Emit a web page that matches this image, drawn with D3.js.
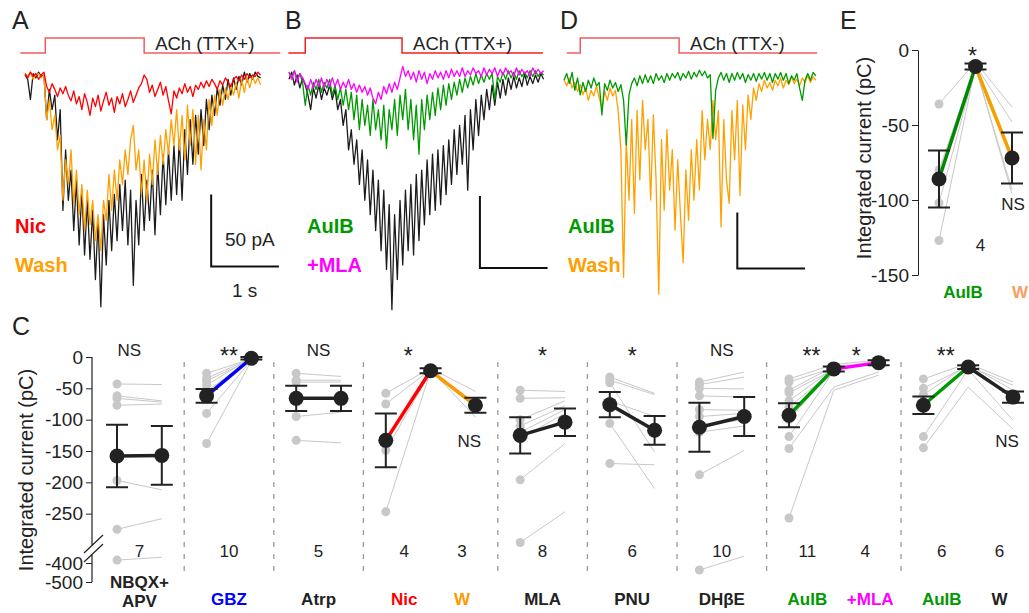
<!DOCTYPE html>
<html>
<head>
<meta charset="utf-8">
<script src="https://cdn.jsdelivr.net/npm/d3@7"></script>
<style>
body { margin: 0; background: #fff; }
text { font-family: "Liberation Sans", Arial, Helvetica, sans-serif; fill: #222; }
</style>
</head>
<body>
<div id="Chart"></div>
<script>
// ---- traces (pA), one sample every 0.04 s ----
var dt = 0.04;

var traceA_ctrl = [0,-3,-17,1,-2,2,-1,0,
  -31,-10,-24,-14,-45,-24,-94,-52,-87,-66,
  -108,-73,-118,-80,-125,-87,-128,-94,-142,-101,
  -161,-97,-132,-87,-122,-83,-115,-76,-108,-73,
  -118,-80,-146,-87,-118,-69,-108,-73,-101,-66,
  -111,-62,-97,-55,-90,-52,-87,-49,-83,-45,
  -87,-38,-69,-31,-62,-28,-55,-24,-49,-17,
  -38,-14,-28,-9,-21,-7,-17,-3,-14,-2,
  -10,-1,-7,2,-5,1,-3,2,-1,-2];
var traceA_wash = [1,-1,2,-3,0,1,-2,0,
  -31,-17,-38,-28,-52,-42,-87,-59,-76,-52,
  -90,-66,-97,-76,-108,-80,-104,-87,-115,-97,
  -122,-87,-101,-69,-94,-66,-87,-59,-76,-52,
  -69,-45,-35,-66,-52,-83,-59,-87,-55,-76,
  -45,-69,-42,-62,-38,-55,-31,-49,-24,-52,
  -28,-59,-21,-49,-24,-62,-28,-66,-31,-52,
  -17,-35,-14,-28,-10,-21,-9,-17,-7,-14,
  -5,-16,-3,-12,-2,-9,-1,-6,-2,-7];
var traceA_nic = [1,-2,2,-1,1,-3,0,2,
  -8,-12,-6,-10,-15,-9,-13,-8,-14,-18,-11,-20,-15,-24,-13,-19,-28,-16,
  -22,-14,-25,-18,-12,-21,-16,-26,-15,-20,-13,-22,-17,-11,-19,-14,-9,-6,
  0,
  -3,-12,-7,-15,-10,-5,-14,-8,-18,-27,-11,-16,-9,-13,-6,-12,-8,-15,-7,-10,-5,
  -9,-4,-8,-3,-6,-10,-4,-7,-2,-5,-8,-3,-1,-4,0,-3,1,-2,0,-1,2,0];

var traceB_ctrl = [-3,2,-7,0,-9,-2,-7,-14,-24,-9,
  -16,-7,-17,-9,-14,-7,-17,-10,-24,-17,
  -35,-24,-52,-38,-62,-45,-76,-52,-87,-59,
  -97,-66,-108,-73,-122,-80,-135,-90,-163,-97,
  -142,-87,-132,-80,-122,-76,-125,-69,-115,-66,
  -104,-59,-97,-55,-94,-52,-90,-49,-83,-45,
  -76,-38,-69,-35,-62,-28,-80,-24,-52,-17,
  -42,-14,-31,-10,-24,-7,-21,-5,-16,-3,
  -14,-2,-10,-1,-9,-2,-8,1,-7,-1,
  -6,0,-5,1,-3];
var traceB_auib = [2,-2,3,-3,1,-5,-21,-7,-14,-5,
  -10,-3,-12,-5,-9,-3,-14,-7,-17,-9,
  -21,-10,-24,-12,-31,-14,-38,-17,-35,-21,
  -42,-17,-38,-24,-45,-21,-51,-24,-38,-17,
  -42,-14,-31,-10,-38,-17,-45,-21,-55,-17,
  -38,-14,-31,-12,-28,-9,-24,-7,-21,-6,
  -17,-5,-14,-3,-12,-2,-9,-1,-7,1,
  -6,0,-5,1,-3,1,-17,-1,-5,2,
  -3,3,-2,2,-3,3,-1,2,-2,3,
  -1,3,-1,2,0];
var traceB_mla = [2,-3,3,-5,1,-2,-6,-10,-3,-9,
  -3,-8,-2,-9,-3,-8,-2,-8,-3,-10,
  -5,-9,-3,-10,-6,-12,-7,-12,-8,-14,
  -9,-16,-20,-12,-17,-8,-13,-6,-12,-5,
  -10,-2,6,-1,3,-3,2,-5,3,-3,
  2,-6,1,-3,3,-2,2,-3,3,-2,
  4,-1,3,-1,5,-1,3,0,5,1,
  3,-1,5,0,4,1,5,-1,4,0,
  5,1,3,-1,5,0,4,1,3,-1,
  5,1,4,1,3];

var traceD_wash = [-2,-7,0,-9,-4,-12,-6,-15,-9,-20,
  -11,-16,-7,-18,-27,-12,-20,-9,-16,-11,
  -29,-64,-178,-55,-109,-37,-121,-29,-91,-20,
  -64,-37,-109,-33,-91,-193,-55,-118,-46,-100,
  -64,-136,-73,-122,-165,-82,-127,-64,-109,-55,
  -100,-29,-73,-37,-64,-20,-55,-29,-133,-37,
  -91,-112,-29,-73,-20,-105,-24,-64,-15,-37,
  -9,-20,-5,-12,-2,-9,-4,-11,-2,-7,
  0,-9,-2,-6,1,-5,-1,-7,0,-4,
  2,-4,1,-2];
var traceD_auib = [-2,4,-5,5,-11,0,-15,-4,-12,-2,
  -9,0,-7,-4,-33,-5,-11,-2,-9,-4,
  -12,-6,-20,-60,-15,-5,0,-7,2,-5,
  3,-4,2,-5,4,-2,2,-4,4,-2,
  4,0,5,-2,4,0,6,-1,5,1,
  7,2,6,0,3,-54,-11,0,5,-2,
  4,-4,4,-2,5,-1,4,-4,3,-2,
  4,-3,4,-1,5,-2,4,-4,4,-1,
  5,-2,4,-5,2,-2,4,-9,-20,-2,
  4,-2,5,2];

// ACh application: [start, on, off, end] (s)
var achA = [-0.07, 0.3, 1.76, 3.77];
var achB = [-0.01, 0.24, 1.67, 3.75];
var achD = [0.04, 0.24, 1.70, 3.74];

// ---- panel C: integrated current (pC) ----
var cMeans = [[-158,-157],[-62,-2],[-66,-66],[-133,-22,-77],[-125,-104],[-76,-117],[-112,-95],[-93,-19,-9],[-77,-16,-64]];
var cSems = [[50,47],[11,2],[20,20],[43,4,12],[29,22],[20,23],[39,31],[19,4,4],[14,3,9]];
var cSubjects = [
  [[-43,-44],[-62,-70],[-66,-72],[-77,-75],[-197,-212],[-275,-258],[-384,-368]],
  [[-26,-3],[-34,-2],[-38,-4],[-45,-1],[-55,-3],[-90,-5],[-138,-6]],
  [[-26,-31],[-37,-37],[-40,-40],[-95,-88],[-133,-137]],
  [[-58,-18,-55],[-75,-20,-96],[-149,-24,-80],[-247,-22,null]],
  [[-53,-55],[-66,-65],[-100,-70],[-110,-78],[-120,-84],[-130,-90],[-196,-138],[-296,-247]],
  [[-32,-58],[-37,-60],[-41,-152],[-70,-95],[-106,-210],[-170,-172]],
  [[-40,-24],[-44,-32],[-50,-51],[-62,-64],[-84,-85],[-95,-90],[-110,-100],[-120,-110],[-188,-149],[-437,-362]],
  [[-35,-12,-5],[-40,-17,-9],[-53,-15,null],[-57,-20,null],[-70,-18,null],[-80,-21,null],[-90,-25,null],[-100,-19,null],[-127,-22,null],[-146,-48,-24],[-257,-53,-29]],
  [[-35,-10,-40],[-50,-14,-45],[-60,-12,-53],[-75,-16,-60],[-127,-20,-101],[-145,-48,-115]]
];
var cLineColors = [["#222"],["#0000ff"],["#222"],["#ff0000","#ff9900"],["#222"],["#222"],["#222"],["#009900","#ff00ff"],["#009900","#222"]];
var cStars = [["NS"],["**"],["NS"],["*","NS"],["*"],["*"],["NS"],["**","*"],["**","NS"]];
var cN = [["7"],["10"],["5"],["4","3"],["8"],["6"],["10"],["11","4"],["6","6"]];
var cCats = [[["NBQX+","APV"]],[["GBZ"]],[["Atrp"]],[["Nic"],["W"]],[["MLA"]],[["PNU"]],[["DHβE"]],[["AuIB"],["+MLA"]],[["AuIB"],["W"]]];
var cCatColors = [["#222"],["#0000ff"],["#222"],["#ff0000","#ff9900"],["#222"],["#222"],["#222"],["#009900","#ff00ff"],["#009900","#222"]];
var cTicks = [0,-50,-100,-150,-200,-250,-400,-500];

// ---- panel E ----
var eMeans = [-86,-11,-72];
var eSems = [19,2,17];
var eSubjects = [[-36,-8,-38],[-80,-10,-48],[-102,-12,-93],[-127,-11,-96]];
var eTicks = [0,-50,-100,-150];

var w = 1029, h = 613;

function doChart()
{
    var svg = d3.select("#Chart").append("svg")
        .attr("width", w)
        .attr("height", h);

    // panel letters
    [["A",12,29],["B",285,29],["D",560,29],["E",840,29],["C",12,335]].forEach(function(d){
        svg.append("text").text(d[0]).attr("x", d[1]).attr("y", d[2])
            .style("font-size", "25px");
    });

    var line = d3.line().defined(function(d){ return d[1] != null; });

    // ---------- trace panels ----------
    function tracePanel(x0, base, pxPerPA, ach, achColor, achLabel, traces, sb, labels, labelX)
    {
        var x = d3.scaleLinear().domain([0, 1]).range([x0, x0 + 67.7]);
        var y = d3.scaleLinear().domain([0, -50]).range([base, base + 50 * pxPerPA]);
        var g = svg.append("g");

        g.append("path")
            .attr("d", "M" + x(ach[0]) + ",53H" + x(ach[1]) + "V38H" + x(ach[2]) + "V53H" + x(ach[3]))
            .attr("fill", "none").attr("stroke", achColor).attr("stroke-width", 1.5);
        g.append("text").text(achLabel)
            .attr("x", x(ach[2]) + 11).attr("y", 50)
            .style("font-size", "18.5px");

        traces.forEach(function(t){
            g.append("path")
                .attr("d", line(t.data.map(function(v, i){ return [x(i * dt), y(v)]; })))
                .attr("fill", "none")
                .attr("stroke", t.color)
                .attr("stroke-width", 1.3)
                .attr("stroke-linejoin", "round");
        });

        // scale bar 1 s / 50 pA
        g.append("path")
            .attr("d", "M" + x(sb[0]) + "," + y(sb[1] + 50) + "V" + y(sb[1]) + "H" + x(sb[0] + 1))
            .attr("fill", "none").attr("stroke", "#111").attr("stroke-width", 2);

        labels.forEach(function(l, i){
            g.append("text").text(l[0])
                .attr("x", labelX).attr("y", 233 + i * 39)
                .style("fill", l[1])
                .style("font-size", "20px").style("font-weight", "bold");
        });
        return {x: x, y: y, g: g};
    }

    var pA = tracePanel(25, 75, 1.44, achA, "#f25c5c", "ACh (TTX+)",
        [{data: traceA_ctrl, color: "#1c1c1c"}, {data: traceA_wash, color: "#ffa000"}, {data: traceA_nic, color: "#ff0000"}],
        [2.75, -133], [["Nic", "#ff0000"], ["Wash", "#ffa000"]], 15);
    pA.g.append("text").text("50 pA").attr("x", 225).attr("y", 246).style("font-size", "19px");
    pA.g.append("text").text("1 s").attr("x", 232).attr("y", 297).style("font-size", "19px");

    tracePanel(289, 75, 1.44, achB, "#ee2222", "ACh (TTX+)",
        [{data: traceB_ctrl, color: "#1c1c1c"}, {data: traceB_auib, color: "#009a00"}, {data: traceB_mla, color: "#ff00ff"}],
        [2.82, -134], [["AuIB", "#009a00"], ["+MLA", "#ff00ff"]], 307);

    tracePanel(564, 78, 1.12, achD, "#f25c5c", "ACh (TTX-)",
        [{data: traceD_wash, color: "#ffa000"}, {data: traceD_auib, color: "#009a00"}],
        [2.56, -170], [["AuIB", "#009a00"], ["Wash", "#ffa000"]], 568);

    // ---------- shared drawing of paired data ----------
    function pairs(g, xs, ys, start, means, sems, subjects, colors)
    {
        subjects.forEach(function(s){
            g.append("path")
                .attr("d", line(s.map(function(v, j){ return [xs(start + j), v == null ? null : ys(v)]; })))
                .attr("fill", "none").attr("stroke", "#c8c8c8").attr("stroke-width", 1);
        });
        subjects.forEach(function(s){
            g.append("circle").attr("cx", xs(start)).attr("cy", ys(s[0])).attr("r", 4.5).attr("fill", "#c8c8c8");
        });
        for (var k = 0; k < means.length - 1; k++) {
            g.append("line")
                .attr("x1", xs(start + k)).attr("y1", ys(means[k]))
                .attr("x2", xs(start + k + 1)).attr("y2", ys(means[k + 1]))
                .attr("stroke", colors[k]).attr("stroke-width", 3.5);
        }
        means.forEach(function(m, j){
            var cx = xs(start + j);
            g.append("path")
                .attr("d", "M" + cx + "," + ys(m - sems[j]) + "V" + ys(m + sems[j]) +
                    "M" + (cx - 11) + "," + ys(m - sems[j]) + "h22" +
                    "M" + (cx - 11) + "," + ys(m + sems[j]) + "h22")
                .attr("fill", "none").attr("stroke", "#222").attr("stroke-width", 2);
            g.append("circle").attr("cx", cx).attr("cy", ys(m)).attr("r", 7.5).attr("fill", "#222");
        });
    }

    function starSize(s){ return s.indexOf("*") >= 0 ? "23px" : "17px"; }
    function starY(s, y){ return s.indexOf("*") >= 0 ? y + 8 : y; }

    // ---------- panel C ----------
    var xC = d3.scaleLinear().domain([0, 20]).range([117, 1013]);
    var yC = d3.scaleLinear().domain([-500, -400, -300, 0]).range([582, 563, 545, 357]);
    var gC = svg.append("g");

    var axC = gC.append("g").attr("transform", "translate(92,0)")
        .call(d3.axisLeft(yC).tickValues(cTicks).tickSize(6).tickPadding(3)
            .tickFormat(function(d){ return String(d); }));
    axC.select(".domain").remove();
    axC.selectAll("line").attr("stroke", "#222");
    axC.selectAll("text").style("font-size", "19px").attr("font-family", null);
    gC.append("path")
        .attr("d", "M92," + yC(0) + "V546M92,555V" + yC(-500) + "M84,553L103,535M84,562L103,544")
        .attr("fill", "none").attr("stroke", "#222").attr("stroke-width", 1.2);
    gC.append("text").text("Integrated current (pC)")
        .attr("transform", "translate(33,470) rotate(-90)")
        .attr("text-anchor", "middle").style("font-size", "20px");

    var start = 0;
    cMeans.forEach(function(means, gi){
        var st = start;
        start += means.length;
        var multi = means.length > 2;
        function labelX(k){ return xC(st + k + 0.5) + (multi ? (k > 0 ? 9 : -4) : 0); }
        if (gi > 0) {
            gC.append("line").attr("x1", xC(st - 0.5)).attr("x2", xC(st - 0.5))
                .attr("y1", 362).attr("y2", 573)
                .attr("stroke", "#999").attr("stroke-width", 1.3).attr("stroke-dasharray", "5,7");
        }
        pairs(gC, xC, yC, st, means, cSems[gi], cSubjects[gi], cLineColors[gi]);

        cStars[gi].forEach(function(s, k){
            var below = (k > 0 && s == "NS");
            gC.append("text").text(s)
                .attr("x", below ? xC(st + k + 1) - 6 : xC(st + k + 0.5) - (gi == 0 ? 10 : 0))
                .attr("y", below ? 447 : starY(s, 356))
                .attr("text-anchor", "middle").style("font-size", starSize(s));
        });
        cN[gi].forEach(function(s, k){
            gC.append("text").text(s)
                .attr("x", labelX(k)).attr("y", 557)
                .attr("text-anchor", "middle").style("font-size", "17px");
        });
        cCats[gi].forEach(function(lines, k){
            lines.forEach(function(s, li){
                gC.append("text").text(s)
                    .attr("x", labelX(k) + (s == "+MLA" ? 5 : 0))
                    .attr("y", lines.length > 1 ? 588 + li * 19 : 605)
                    .attr("text-anchor", "middle")
                    .style("fill", cCatColors[gi][k])
                    .style("font-size", "17px").style("font-weight", "bold");
            });
        });
    });

    // ---------- panel E ----------
    var xE = d3.scaleLinear().domain([0, 2]).range([939, 1012]);
    var yE = d3.scaleLinear().domain([-150, 0]).range([275, 50]);
    var gE = svg.append("g");
    var axE = gE.append("g").attr("transform", "translate(918,0)")
        .call(d3.axisLeft(yE).tickValues(eTicks).tickSize(6).tickSizeOuter(0).tickPadding(3)
            .tickFormat(function(d){ return String(d); }));
    axE.select(".domain").attr("stroke", "#222");
    axE.selectAll("line").attr("stroke", "#222");
    axE.selectAll("text").style("font-size", "19px").attr("font-family", null);
    gE.append("text").text("Integrated current (pC)")
        .attr("transform", "translate(871,158) rotate(-90)")
        .attr("text-anchor", "middle").style("font-size", "20px");

    pairs(gE, xE, yE, 0, eMeans, eSems, eSubjects, ["#008800", "#f5a000"]);
    gE.append("text").text("*").attr("x", xE(1) - 3).attr("y", starY("*", 56)).attr("text-anchor", "middle").style("font-size", starSize("*"));
    gE.append("text").text("NS").attr("x", xE(2) + 1).attr("y", 210).attr("text-anchor", "middle").style("font-size", "17px");
    gE.append("text").text("4").attr("x", xE(1) + 5).attr("y", 251).attr("text-anchor", "middle").style("font-size", "17px");
    gE.append("text").text("AuIB").attr("x", 963).attr("y", 298).attr("text-anchor", "middle")
        .style("fill", "#009900").style("font-size", "17px").style("font-weight", "bold");
    gE.append("text").text("W").attr("x", 1020).attr("y", 298).attr("text-anchor", "middle")
        .style("fill", "#f7a060").style("font-size", "17px").style("font-weight", "bold");
}

doChart();
</script>
</body>
</html>
